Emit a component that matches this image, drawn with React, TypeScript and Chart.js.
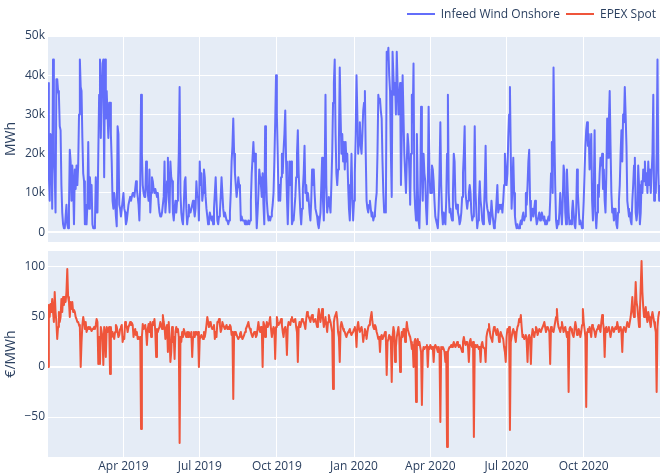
import { useEffect, useRef } from "react";
import { Chart, registerables } from "chart.js";

Chart.register(...registerables);

const START_DATE = "2019-01-01";
const xTickDates = ["2019-04-01", "2019-07-01", "2019-10-01", "2020-01-01", "2020-04-01", "2020-07-01", "2020-10-01"];
const xTickLabels = ["Apr 2019", "Jul 2019", "Oct 2019", "Jan 2020", "Apr 2020", "Jul 2020", "Oct 2020"];
const windTickValues = [0, 10000, 20000, 30000, 40000, 50000];
const windTickLabels = ["0", "10k", "20k", "30k", "40k", "50k"];
const priceTickValues = [-50, 0, 50, 100];
const priceTickLabels = ["\u221250", "0", "50", "100"];

// Infeed Wind Onshore, daily MWh
const windOnshore2019 = [
  38000, 15000, 8000, 25000, 24000, 6000, 44000, 20000, 15000, 5000, 39000, 39000, 36000, 35000, 27000, 26000, 12000, 5000, 2000, 1000, 1000, 4000, 7000, 2000, 1000, 6000, 21000, 18000, 8000, 17000, 12000,
  2000, 16000, 11000, 17000, 12000, 17000, 30000, 44000, 37000, 36000, 24000, 15000, 13000, 2000, 7000, 2000, 7000, 23000, 6000, 14000, 10000, 12000, 2000, 1000, 1000, 2000, 14000, 5000,
  5000, 20000, 35000, 44000, 24000, 35000, 43000, 44000, 14000, 44000, 29000, 36000, 30000, 24000, 33000, 33000, 25000, 18000, 8000, 6000, 10000, 8000, 4000, 1500, 27000, 25000, 7000, 6000, 4000, 6000, 8000,
  10000, 6000, 5000, 2000, 3000, 5000, 7000, 8000, 9000, 8000, 9000, 10000, 10000, 9000, 11000, 13000, 11000, 9000, 7000, 3000, 12000, 35000, 20000, 12000, 10000, 9000, 9000, 18000, 12000, 10000,
  8000, 16000, 5000, 10000, 14000, 13000, 11000, 10000, 11000, 10000, 9000, 10000, 7000, 5000, 4000, 4000, 5000, 5000, 9000, 18000, 5000, 8000, 13000, 19000, 9000, 5000, 18000, 14000, 13000, 5000, 3000,
  6000, 8000, 5000, 8000, 12000, 20000, 37000, 10000, 5000, 3000, 2000, 7000, 13000, 14000, 6000, 2000, 4000, 7000, 5000, 5000, 6000, 7000, 8000, 6000, 4000, 6000, 13000, 9000, 9000, 3000,
  18000, 12000, 15000, 8000, 10000, 16000, 14000, 9000, 6000, 4000, 2000, 3000, 5000, 4000, 3000, 4000, 2000, 6000, 10000, 14000, 8000, 3000, 2000, 4000, 5000, 9000, 14000, 10000, 6000, 4000, 5000,
  4000, 3000, 3000, 2000, 3000, 5000, 10000, 18000, 22000, 29000, 20000, 15000, 12000, 9000, 11000, 14000, 12000, 11000, 3000, 4000, 3000, 3000, 3000, 2000, 3000, 2000, 2000, 3000, 2000, 3000, 8000,
  15000, 19000, 23000, 18000, 20000, 8000, 1000, 5000, 10000, 16000, 14000, 12000, 9000, 15000, 7000, 2000, 27000, 15000, 8000, 5000, 3000, 4000, 3000, 4000, 5000, 7000, 10000, 18000, 28000, 40000,
  30000, 20000, 8000, 12000, 8000, 14000, 20000, 15000, 21000, 25000, 31000, 18000, 9000, 2000, 10000, 18000, 12000, 18000, 2000, 3000, 3000, 6000, 9000, 14000, 20000, 26000, 15000, 10000, 5000, 2000, 6000,
  11000, 15000, 22000, 10000, 12000, 8000, 10000, 8000, 5000, 3000, 8000, 16000, 12000, 16000, 10000, 6000, 5000, 4000, 2000, 1000, 3000, 5000, 12000, 19000, 8000, 3000, 15000, 35000, 12000, 5000,
  7000, 9000, 7000, 5000, 12000, 20000, 33000, 38000, 44000, 25000, 15000, 12000, 16000, 23000, 42000, 30000, 20000, 25000, 18000, 23000, 16000, 23000, 18000, 20000, 12000, 6000, 3000, 10000, 20000, 10000, 3000,
];
const windOnshore2020 = [
  8000, 15000, 25000, 40000, 30000, 20000, 24000, 28000, 22000, 20000, 25000, 31000, 33000, 36000, 20000, 8000, 6000, 5000, 7000, 8000, 6000, 4000, 5000, 3000, 4000, 5000, 8000, 10000, 20000, 35000, 33000,
  34000, 31000, 29000, 18000, 10000, 5000, 6000, 5000, 46000, 44000, 47000, 40000, 36000, 20000, 9000, 46000, 40000, 35000, 38000, 30000, 46000, 38000, 30000, 34000, 38000, 12000, 25000, 40000, 30000,
  20000, 15000, 10000, 18000, 25000, 22000, 16000, 7000, 20000, 35000, 28000, 43000, 11000, 6000, 3000, 25000, 12000, 3000, 1000, 10000, 32000, 18000, 8000, 20000, 15000, 13000, 6000, 2000, 10000, 32000, 16000,
  10000, 10000, 17000, 16000, 13000, 8000, 4000, 3000, 2000, 1000, 6000, 15000, 28000, 12000, 5000, 2000, 5000, 3000, 2000, 8000, 20000, 35000, 10000, 5000, 6000, 4000, 3000, 10000, 20000, 18000,
  8000, 6000, 7000, 5000, 4000, 2000, 3000, 5000, 9000, 15000, 20000, 27000, 10000, 8000, 6000, 8000, 10000, 12000, 10000, 5000, 3000, 4000, 10000, 27000, 10000, 5000, 1000, 3000, 8000, 13000, 8000,
  6000, 3000, 2000, 5000, 12000, 22000, 8000, 6000, 5000, 3000, 2000, 4000, 8000, 5000, 3000, 1000, 2000, 4000, 8000, 12000, 5000, 6000, 7000, 6000, 7000, 5000, 8000, 12000, 20000, 16000,
  12000, 15000, 24000, 30000, 37000, 20000, 6000, 12000, 19000, 10000, 4000, 2000, 1000, 2000, 1000, 1000, 2000, 3000, 2000, 4000, 5000, 3000, 4000, 10000, 7000, 12000, 18000, 21000, 8000, 3000, 5000,
  6000, 4000, 6000, 8000, 4000, 2000, 3000, 4000, 5000, 3000, 4000, 5000, 4000, 3000, 4000, 2000, 3000, 2000, 3000, 4000, 3000, 8000, 15000, 23000, 10000, 42000, 25000, 12000, 3000, 1000, 2000,
  2000, 5000, 10000, 6000, 2000, 8000, 17000, 15000, 5000, 2000, 16000, 10000, 5000, 2000, 3000, 2000, 5000, 8000, 5000, 2000, 1000, 5000, 16000, 10000, 6000, 2000, 3000, 2000, 1000, 3000,
  8000, 15000, 22000, 26000, 28000, 22000, 25000, 16000, 20000, 25000, 8000, 3000, 10000, 26000, 5000, 1000, 5000, 12000, 9000, 15000, 19000, 17000, 20000, 11000, 16000, 8000, 5000, 15000, 29000, 19000, 28000,
  36000, 22000, 10000, 5000, 6000, 3000, 4000, 6000, 2000, 1000, 5000, 8000, 12000, 20000, 26000, 18000, 30000, 28000, 37000, 30000, 22000, 8000, 6000, 4000, 5000, 3000, 2000, 8000, 12000, 17000,
  19000, 5000, 3000, 5000, 17000, 12000, 2000, 5000, 13000, 10000, 16000, 13000, 18000, 12000, 15000, 10000, 18000, 12000, 16000, 10000, 15000, 20000, 35000, 8000, 12000, 10000, 20000, 44000, 15000, 8000, 12000,
];

// EPEX Spot, daily average €/MWh
const epexSpot2019 = [
  0, 62, 50, 63, 55, 68, 55, 45, 75, 55, 45, 28, 40, 55, 45, 50, 68, 55, 70, 62, 70, 65, 75, 98, 70, 65, 50, 65, 58, 65, 55,
  57, 55, 50, 48, 45, 45, 42, 40, 0, 25, 42, 50, 45, 38, 45, 35, 38, 40, 38, 40, 38, 36, 38, 38, 40, 38, 42, 48,
  45, 3, 30, 3, 40, 35, 30, 2, 40, 35, 10, 40, 35, 38, 40, -7, 40, 30, 35, 32, 28, 35, 42, 40, 35, 30, 32, 38, 40, 42, 25,
  30, 28, 45, 42, 40, 35, 40, 42, 45, 42, 44, 42, 30, 35, 38, 32, 35, 28, 30, 28, 30, -62, 30, 43, 38, 40, 42, 35, 22, 38,
  43, 35, 45, 30, 40, 45, 42, 48, 35, 10, 38, 35, 38, 40, 45, 42, 38, 52, 45, 40, 28, 38, 42, 15, 45, 30, 5, 15, 40, 25, 30,
  8, 35, 40, 35, 38, 30, -76, 30, 25, 35, 30, 38, 35, 32, 30, 35, 30, 35, 32, 30, 35, 10, 30, 35, 30, 35, 35, 32, 35, 0,
  28, 30, 32, 30, 28, 35, 30, 35, 42, 50, 45, 40, 42, 45, 40, 38, 40, 42, 28, 35, 30, 45, 45, 48, 42, 35, 38, 45, 42, 40, 38,
  40, 42, 38, 40, 38, 42, 40, 32, 35, -32, 35, 32, 35, 32, 30, 28, 30, 33, 35, 30, 28, 30, 32, 35, 38, 40, 42, 45, 40, 38, 35,
  32, 30, 33, 35, 35, 30, 32, 38, 45, 38, 35, 40, 40, 0, 45, 42, 30, 38, 45, 40, 42, 45, 50, 38, 30, 35, 40, 38, 8, 40,
  50, 45, 42, 44, 45, 48, 42, 35, 30, 38, 40, 35, 12, 40, 45, 43, 42, 48, 50, 46, 45, 47, 48, 40, 35, 5, 40, 45, 40, 44, 48,
  46, 45, 42, 38, 48, 55, 52, 50, 48, 45, 50, 52, 48, 45, 47, 48, 44, 40, 50, 58, 50, 45, 52, 58, 48, 40, 45, 50, 42, 35,
  45, 52, 48, 45, 40, 35, -22, 45, 50, 52, 55, 48, 35, 30, 5, 40, 45, 42, 38, 36, 35, 32, 30, 33, 35, 36, 38, 34, 32, 34, 35,
];
const epexSpot2020 = [
  38, 40, 35, 20, 40, 45, 38, 35, 38, 40, 35, 25, 32, 38, 35, 28, 35, 40, 42, 45, 50, 55, 45, 40, 38, 42, 40, 35, 32, 28, 30,
  15, 30, 32, 28, 30, 32, 35, 30, -8, 25, 28, 32, 30, 25, -15, 30, 40, 35, 5, 20, 30, 35, 40, 30, -5, 25, 35, 30, 38,
  38, 25, 35, 45, 38, 35, 32, 30, 25, 18, 22, 0, 25, 28, -35, 25, 28, 22, 25, 20, 15, -38, 15, 20, 18, 20, 20, 22, 0, 20, 18,
  22, 20, 18, 20, 5, 20, 22, 20, 18, 15, 20, 15, -55, 20, 18, 20, 18, 15, 5, 15, -80, 15, 18, 20, 20, 22, 20, 22, 25, 22,
  20, 22, 25, 22, 20, 22, 20, 18, 15, 25, 30, 25, 22, 25, 25, 20, 5, 25, 28, 22, 20, 25, -70, 20, 22, 20, 22, 20, 18, 20, 5,
  22, 25, 20, 20, 18, 5, 30, 35, 38, 43, 35, 30, 28, 25, 35, 40, 38, 35, 32, 38, 35, 25, 30, 35, 32, 30, 28, 20, 15, 5,
  30, 38, 35, 40, -63, 25, 30, 35, 38, 35, 30, 25, 35, 40, 42, 48, 45, 52, 40, 30, 32, 28, 30, 32, 25, 5, 30, 32, 28, 3, 30,
  38, 35, 30, 35, 40, 38, 32, 35, 38, 36, 35, 38, 40, 42, 45, 40, 35, 38, 40, 38, 35, 3, 40, 38, 36, 35, 40, 45, 50, 58, 45,
  40, 38, 35, 40, 45, 40, 35, 38, 40, 35, 30, 35, -25, 38, 40, 38, 35, 32, 30, 38, 45, 40, 32, 35, 38, 35, 30, 35, 42, 58,
  45, 38, 30, -40, 35, 38, 35, 40, 35, 30, 42, 40, 38, 35, 30, 35, 38, 40, 42, 38, 35, 45, 52, 45, 38, 10, 38, 40, 35, 38, 40,
  35, 30, 35, 40, 38, 35, 38, 40, 38, 45, 40, 35, 38, 40, 35, 15, 38, 40, 38, 35, 40, 45, 42, 40, 45, 50, 58, 70, 55, 50,
  60, 85, 65, 60, 50, 40, 55, 80, 106, 75, 60, 50, 55, 60, 50, 45, 55, 50, 45, 40, 50, 55, 50, 45, 40, 35, -25, 40, 50, 55, 55,
];

const WIND_COLOR = "#636efa";
const PRICE_COLOR = "#ef553b";
const TEXT_COLOR = "#2a3f5f";
const PLOT_BG = "#e5ecf6";
const FONT_FAMILY = "'Open Sans', sans-serif";

const windValues = [...windOnshore2019, ...windOnshore2020];
const priceValues = [...epexSpot2019, ...epexSpot2020];
const DAY_MS = 86400000;
const dayOffset = (iso: string) => (Date.parse(iso) - Date.parse(START_DATE)) / DAY_MS;
const xTickDays = xTickDates.map(dayOffset);
const lastDay = windValues.length - 1;

const plotBackground = {
  id: "plotBackground",
  beforeDraw(chart: any) {
    const { ctx, chartArea } = chart;
    ctx.save();
    ctx.fillStyle = PLOT_BG;
    ctx.fillRect(chartArea.left, chartArea.top, chartArea.right - chartArea.left, chartArea.bottom - chartArea.top);
    ctx.restore();
  },
};

function gridOpts(zeroWide: boolean) {
  return {
    color: "#ffffff",
    lineWidth: (c: any) => (zeroWide && c.tick && c.tick.value === 0 ? 2 : 1),
    drawTicks: false,
  };
}

function clearPadding(s: any) {
  s.paddingTop = 0;
  s.paddingBottom = 0;
  s.paddingLeft = 0;
  s.paddingRight = 0;
}

function xScale(showLabels: boolean, height: number) {
  return {
    type: "linear" as const,
    min: 0,
    max: lastDay,
    afterBuildTicks: (s: any) => {
      s.ticks = xTickDays.map((v) => ({ value: v }));
    },
    afterFit: (s: any) => {
      s.height = height;
      clearPadding(s);
    },
    ticks: {
      display: showLabels,
      autoSkip: false,
      maxRotation: 0,
      padding: 2,
      color: TEXT_COLOR,
      font: { family: FONT_FAMILY, size: 12 },
      callback: (_v: any, i: number) => xTickLabels[i],
    },
    grid: gridOpts(false),
    border: { display: false },
  };
}

function yScale(min: number, max: number, values: number[], labels: string[]) {
  return {
    type: "linear" as const,
    min,
    max,
    afterBuildTicks: (s: any) => {
      s.ticks = values.map((v) => ({ value: v }));
    },
    afterFit: (s: any) => {
      s.width = 48;
      clearPadding(s);
    },
    ticks: {
      padding: 3,
      color: TEXT_COLOR,
      font: { family: FONT_FAMILY, size: 12 },
      callback: (_v: any, i: number) => labels[i],
    },
    grid: gridOpts(true),
    border: { display: false },
  };
}

function lineDataset(label: string, values: number[], color: string) {
  return {
    label,
    data: values.map((v, i) => ({ x: i, y: v })),
    borderColor: color,
    backgroundColor: color,
    borderWidth: 2,
    borderJoinStyle: "round" as const,
    pointRadius: 0,
    tension: 0,
    fill: false,
  };
}

export default function App() {
  const topRef = useRef<HTMLCanvasElement | null>(null);
  const bottomRef = useRef<HTMLCanvasElement | null>(null);

  useEffect(() => {
    if (!topRef.current || !bottomRef.current) return;
    const common = {
      responsive: false,
      animation: false as const,
      devicePixelRatio: 1,
      events: [] as any[],
      plugins: { legend: { display: false }, tooltip: { enabled: false } },
    };
    const top = new Chart(topRef.current, {
      type: "line",
      data: { datasets: [lineDataset("Infeed Wind Onshore", windValues, WIND_COLOR)] },
      options: {
        ...common,
        layout: { autoPadding: false, padding: { top: 36, bottom: 5, left: 0, right: 0 } },
        scales: {
          x: xScale(false, 0),
          y: yScale(-2500, 50000, windTickValues, windTickLabels),
        },
      } as any,
      plugins: [plotBackground],
    });
    const bottom = new Chart(bottomRef.current, {
      type: "line",
      data: { datasets: [lineDataset("EPEX Spot", priceValues, PRICE_COLOR)] },
      options: {
        ...common,
        layout: { autoPadding: false, padding: { top: 4, bottom: 0, left: 0, right: 0 } },
        scales: {
          x: xScale(true, 16),
          y: yScale(-90, 116, priceTickValues, priceTickLabels),
        },
      } as any,
      plugins: [plotBackground],
    });
    return () => {
      top.destroy();
      bottom.destroy();
    };
  }, []);

  const axisTitle = (text: string, cy: number) => (
    <div
      style={{
        position: "absolute",
        left: 10,
        top: cy,
        transform: "translate(-50%, -50%) rotate(-90deg)",
        fontSize: 14,
        color: TEXT_COLOR,
        whiteSpace: "nowrap",
        lineHeight: "16px",
      }}
    >
      {text}
    </div>
  );

  const legendItem = (text: string, color: string, ml: number) => (
    <div style={{ display: "flex", alignItems: "center", marginLeft: ml }}>
      <span style={{ display: "inline-block", width: 28, height: 2, background: color, marginRight: 6 }} />
      <span>{text}</span>
    </div>
  );

  return (
    <div
      style={{
        position: "fixed",
        left: 0,
        top: 0,
        width: 660,
        height: 473,
        background: "#ffffff",
        fontFamily: FONT_FAMILY,
        overflow: "hidden",
      }}
    >
      <canvas ref={topRef} width={660} height={247} style={{ position: "absolute", left: 0, top: 0 }} />
      <canvas ref={bottomRef} width={660} height={226} style={{ position: "absolute", left: 0, top: 247 }} />
      {axisTitle("MWh", 139)}
      {axisTitle("€/MWh", 354)}
      <div
        style={{
          position: "absolute",
          right: 4,
          top: 6,
          display: "flex",
          alignItems: "center",
          fontSize: 12,
          color: TEXT_COLOR,
          lineHeight: "16px",
        }}
      >
        {legendItem("Infeed Wind Onshore", WIND_COLOR, 0)}
        {legendItem("EPEX Spot", PRICE_COLOR, 6)}
      </div>
    </div>
  );
}
